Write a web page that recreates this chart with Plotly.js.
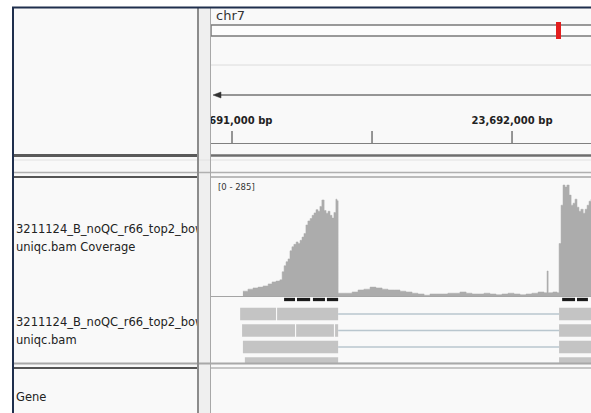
<!DOCTYPE html>
<html><head><meta charset="utf-8">
<script src="https://cdn.plot.ly/plotly-3.0.1.min.js"></script>
<style>html,body{margin:0;padding:0;background:#fff;}#chart{width:591px;height:413px;}</style>
</head><body><div id="chart"></div>
<script>
// ---------- data ----------
const chromName = 'chr7';
const coverageScale = '[0 - 285]';
const viewStart = 23690925, viewEnd = 23692282;
const covMax = 285;

const covPos = [23691039,23691057,23691075,23691093,23691111,23691129,23691143,23691157,23691171,23691179,
  23691186,23691193,23691200,23691207,23691214,23691221,23691229,23691236,23691243,23691250,
  23691257,23691264,23691271,23691279,23691286,23691293,23691300,23691307,23691314,23691321,
  23691329,23691336,23691343,23691350,23691357,23691364,23691371,23691375,
  23691379,23691404,23691429,23691450,23691471,23691493,23691514,23691536,23691557,23691579,
  23691600,23691621,23691643,23691664,23691686,23691707,23691729,23691750,23691771,23691793,
  23691814,23691836,23691857,23691879,23691900,23691921,23691943,23691964,23691986,23692007,
  23692029,23692050,23692071,23692093,23692114,23692125,23692129,23692146,23692161,
  23692168,23692175,23692182,23692189,23692196,23692204,23692211,23692218,23692225,23692232,
  23692239,23692246,23692254,23692261,23692268,23692275,23692282];
const covVal = [12,17,20,22,25,30,35,37,40,60,
  75,85,92,112,122,128,134,130,138,146,
  155,176,186,192,200,206,214,210,222,238,
  212,205,210,200,193,207,240,236,
  7,7,10,15,17,22,20,17,15,15,
  12,10,7,5,2,5,5,5,7,7,
  10,7,5,5,7,5,3,5,7,5,
  3,5,7,10,8,62,8,10,8,
  130,225,275,270,275,250,225,230,240,220,
  210,215,205,215,225,235,240];

// read blocks (aligned segments) per row
const blockRow   = [1,1,1, 2,2,2,2, 3,3, 4,4];
const blockStart = [23691029,23691161,23692168, 23691036,23691229,23691368,23692168, 23691039,23692168, 23691046,23692168];
const blockEnd   = [23691157,23691379,23692300, 23691225,23691364,23691379,23692300, 23691379,23692300, 23691379,23692300];
// spliced gaps (introns)
const gapRow   = [1,2,3,4];
const gapStart = [23691379,23691379,23691379,23691379];
const gapEnd   = [23692168,23692168,23692168,23692168];
// junction markers below coverage
const markStart = [23691186,23691232,23691289,23691339,23692179,23692232];
const markEnd   = [23691225,23691279,23691332,23691379,23692225,23692271];

const rulerTicks  = [23691000, 23691500, 23692000];
const rulerLabels = ['23,691,000 bp', '', '23,692,000 bp'];

const trackLabels = ['3211124_B_noQC_r66_top2_bowtie2_', 'uniqc.bam Coverage',
                     '3211124_B_noQC_r66_top2_bowtie2_', 'uniqc.bam', 'Gene'];
const trackLabelY = [230, 248, 323, 341, 398];

// ---------- helpers (pixel -> paper) ----------
const W = 591, H = 413;
const P = x => x / W, Q = y => 1 - y / H;
const hline = (y, x0, x1, color, width) => ({type:'line', xref:'paper', yref:'paper',
  x0:P(x0), x1:P(x1), y0:Q(y), y1:Q(y), line:{color, width}, layer:'above'});
const vline = (x, y0, y1, color, width) => ({type:'line', xref:'paper', yref:'paper',
  x0:P(x), x1:P(x), y0:Q(y0), y1:Q(y1), line:{color, width}, layer:'above'});
const rect = (x0, y0, x1, y1, fill, lineColor, lw, layer) => ({type:'rect', xref:'paper', yref:'paper',
  x0:P(x0), x1:P(x1), y0:Q(y1), y1:Q(y0), fillcolor:fill,
  line:{color:lineColor || 'rgba(0,0,0,0)', width:lw || 0}, layer: layer || 'below'});

// ---------- traces ----------
const traces = [];
traces.push({type:'scatter', x:covPos, y:covVal, xaxis:'x', yaxis:'y', mode:'lines',
  line:{shape:'hv', width:0.5, color:'#acacac'}, fill:'tozeroy', fillcolor:'#acacac', hoverinfo:'skip'});

traces.push({type:'bar', orientation:'h', xaxis:'x', yaxis:'y2', y:blockRow,
  base:blockStart, x:blockStart.map((s,i)=>blockEnd[i]-s), width:0.76,
  marker:{color:'#c4c4c4', line:{width:0}}, hoverinfo:'skip'});

const gx = [], gy = [];
gapRow.forEach((r,i)=>{ gx.push(gapStart[i], gapEnd[i], null); gy.push(r, r, null); });
traces.push({type:'scatter', mode:'lines', xaxis:'x', yaxis:'y2', x:gx, y:gy,
  line:{color:'#b9c6ce', width:1.5}, hoverinfo:'skip'});

traces.push({type:'bar', orientation:'h', xaxis:'x', yaxis:'y2', y:markStart.map(()=>0.121),
  base:markStart, x:markStart.map((s,i)=>markEnd[i]-s), width:0.2,
  marker:{color:'#1a1a1a', line:{width:0}}, hoverinfo:'skip'});

const tx = [], ty = [];
rulerTicks.forEach(t=>{ tx.push(t, t, null); ty.push(0, 12, null); });
traces.push({type:'scatter', mode:'lines', xaxis:'x', yaxis:'y3', x:tx, y:ty,
  line:{color:'#333', width:1}, hoverinfo:'skip'});
traces.push({type:'scatter', mode:'text', xaxis:'x', yaxis:'y3', x:rulerTicks, y:rulerTicks.map(()=>22),
  text:rulerLabels, textposition:'middle center', cliponaxis:true,
  textfont:{family:'DejaVu Sans', size:10, color:'#222', weight:'bold'}, hoverinfo:'skip'});

traces.push({type:'scatter', mode:'text', xaxis:'x2', yaxis:'y4', x:trackLabels.map(()=>16), y:trackLabelY,
  text:trackLabels, textposition:'middle right', cliponaxis:true,
  textfont:{family:'DejaVu Sans', size:11.5, color:'#222'}, hoverinfo:'skip'});

// ---------- layout ----------
const shapes = [
  rect(12, 7, 591, 413, '#f9f9f9'),
  rect(199, 8, 210, 413, '#efefef'),
  // ideogram
  rect(211, 25, 600, 36, '#fdfdfd', '#7a7a7a', 1.5, 'above'),
  rect(556, 22, 561, 39, '#e31e1e', null, 0, 'above'),
  hline(65, 211, 591, '#dcdcdc', 1),
  hline(95, 216, 591, '#333', 1),
  {type:'path', xref:'paper', yref:'paper', layer:'above', fillcolor:'#333', line:{color:'#333', width:0.5},
   path:`M ${P(213)} ${Q(95)} L ${P(221)} ${Q(92)} L ${P(221)} ${Q(98)} Z`},
  hline(143.5, 211, 591, '#808080', 1),
  hline(155.5, 13, 198, '#5a5a5a', 3),
  hline(155.5, 211, 591, '#6e6e6e', 2.5),
  hline(160, 13, 591, '#e2e2e2', 1),
  hline(172.5, 13, 591, '#b0b0b0', 1.5),
  hline(177, 13, 198, '#555', 2),
  hline(177, 211, 591, '#a6a6a6', 1.5),
  hline(296.5, 211, 591, '#a5a5a5', 1),
  hline(363.5, 13, 591, '#a8a8a8', 2),
  hline(368, 13, 198, '#555', 2),
  hline(368, 211, 591, '#b4b4b4', 1.5),
  vline(198, 8, 413, '#8c8c8c', 2),
  vline(210.5, 8, 413, '#a8a8a8', 1),
  hline(7.5, 12, 591, '#1f2f4d', 2),
  vline(13, 7, 413, '#1f2f4d', 2)
];

const annotations = [
  {xref:'paper', yref:'paper', x:P(214), y:Q(15), text:chromName, showarrow:false, xanchor:'left', yanchor:'middle',
   font:{family:'DejaVu Sans', size:13, color:'#333'}},
  {xref:'paper', yref:'paper', x:P(216), y:Q(187), text:coverageScale, showarrow:false, xanchor:'left', yanchor:'middle',
   font:{family:'DejaVu Sans', size:8.5, color:'#333'}}
];

const hidden = {visible:false, showgrid:false, zeroline:false, fixedrange:true};
const layout = {
  width:W, height:H, margin:{l:0, r:0, t:0, b:0},
  paper_bgcolor:'#ffffff', plot_bgcolor:'rgba(0,0,0,0)',
  showlegend:false, barmode:'overlay',
  xaxis: Object.assign({}, hidden, {domain:[P(211), 1], range:[viewStart, viewEnd], anchor:'y'}),
  yaxis: Object.assign({}, hidden, {domain:[Q(296), Q(181)], range:[0, covMax], anchor:'x'}),
  yaxis2: Object.assign({}, hidden, {domain:[Q(364), Q(296)], range:[4.03, -0.091], anchor:'x'}),
  yaxis3: Object.assign({}, hidden, {domain:[Q(143), Q(100)], range:[0, 43], anchor:'x'}),
  xaxis2: Object.assign({}, hidden, {domain:[P(12), P(197)], range:[12, 197], anchor:'y4'}),
  yaxis4: Object.assign({}, hidden, {domain:[0, 1], range:[413, 0], anchor:'x2'}),
  shapes, annotations
};

Plotly.newPlot('chart', traces, layout, {displayModeBar:false, staticPlot:true});
</script>
</body></html>
